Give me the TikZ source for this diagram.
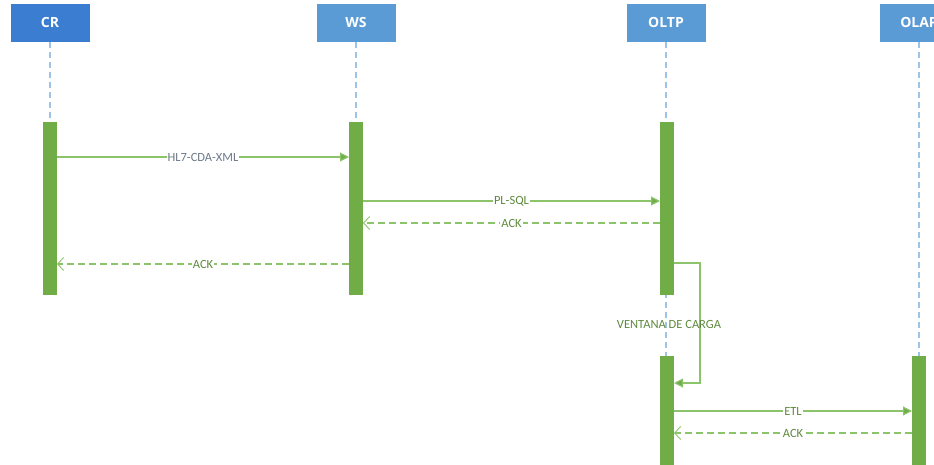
\documentclass[tikz,border=0pt]{standalone}
\usepackage{fontspec}
\setmainfont{Carlito}
\newfontfamily\headfont{Open Sans}
\usetikzlibrary{arrows.meta}
\definecolor{headdark}{HTML}{3B7DD0}
\definecolor{headlight}{HTML}{5B9BD5}
\definecolor{lifeblue}{HTML}{9DC3E6}
\definecolor{actgreen}{HTML}{70AD47}
\definecolor{msggreen}{HTML}{8CC46B}
\definecolor{labgreen}{HTML}{5E8A3E}
\definecolor{labgray}{HTML}{6D7A8A}
\tikzset{
  header/.style={fill=#1, draw=white, line width=0.6pt, minimum width=80pt, minimum height=39pt,
    inner sep=0pt, text=white, font=\headfont\bfseries\fontsize{14}{14}\selectfont},
  lifeline/.style={draw=lifeblue, line width=1.1pt, dash pattern=on 6pt off 4pt},
  actbar/.style={fill=actgreen, draw=none},
  msg/.style={draw=msggreen, line width=1.1pt, -{Triangle[length=9pt,width=9pt,fill=actgreen]}},
  reply/.style={draw=msggreen, line width=1.1pt, dash pattern=on 7pt off 4pt,
    -{Straight Barb[length=6pt,width=13pt,line width=0.9pt]}},
  lab/.style={fill=white, inner sep=1pt, text=labgreen, font=\fontsize{12.5}{12.5}\selectfont}
}
\begin{document}
\begin{tikzpicture}[x=1pt,y=-1pt]
\useasboundingbox (0,0) rectangle (934,464);
\begin{scope}
\clip (0,0) rectangle (934,464);
% participants
\node[header=headdark]  (cr)   at (50,22.5)  {CR};
\node[header=headlight] (ws)   at (356,22.5) {WS};
\node[header=headlight] (oltp) at (666,22.5) {OLTP};
\node[header=headlight] (olap) at (919,22.5) {OLAP};
% lifelines
\coordinate (crEnd)   at (50,122);
\coordinate (wsEnd)   at (356,122);
\coordinate (oltpEnd) at (666,464);
\coordinate (olapEnd) at (919,356);
\draw[lifeline] (cr.south)   -- (crEnd);
\draw[lifeline] (ws.south)   -- (wsEnd);
\draw[lifeline] (oltp.south) -- (oltpEnd);
\draw[lifeline] (olap.south) -- (olapEnd);
% activations
\path[actbar] (43,122) rectangle (57,295);
\path[actbar] (349,122) rectangle (363,295);
\path[actbar] (660,122) rectangle (674,295);
\path[actbar] (660,356) rectangle (674,470);
\path[actbar] (912,356) rectangle (926,470);
\coordinate (crA)    at (57,157);
\coordinate (wsA)    at (349,157);
\coordinate (wsB)    at (363,201);
\coordinate (oltpB)  at (660,201);
\coordinate (oltpC)  at (660,223);
\coordinate (wsC)    at (363,223);
\coordinate (wsD)    at (349,264);
\coordinate (crD)    at (57,264);
\coordinate (oltpS)  at (674,263);
\coordinate (oltpT)  at (674,383);
\coordinate (oltpE)  at (674,411);
\coordinate (olapE)  at (912,411);
\coordinate (olapF)  at (912,433);
\coordinate (oltpF)  at (674,433);
\end{scope}
% messages
\draw[msg] (crA) -- node[lab, text=labgray] {HL7-CDA-XML} (wsA);
\draw[msg] (wsB) -- node[lab] {PL-SQL} (oltpB);
\draw[reply] (oltpC) -- node[lab] {ACK} (wsC);
\draw[reply] (wsD) -- node[lab] {ACK} (crD);
\draw[msg] (oltpS) -| (700,383) -- (oltpT);
\node[lab, fill=none] (vc) at (669,324) {VENTANA DE CARGA};
\draw[msg] (oltpE) -- node[lab] {ETL} (olapE);
\draw[reply] (olapF) -- node[lab] {ACK} (oltpF);
\end{tikzpicture}
\end{document}
